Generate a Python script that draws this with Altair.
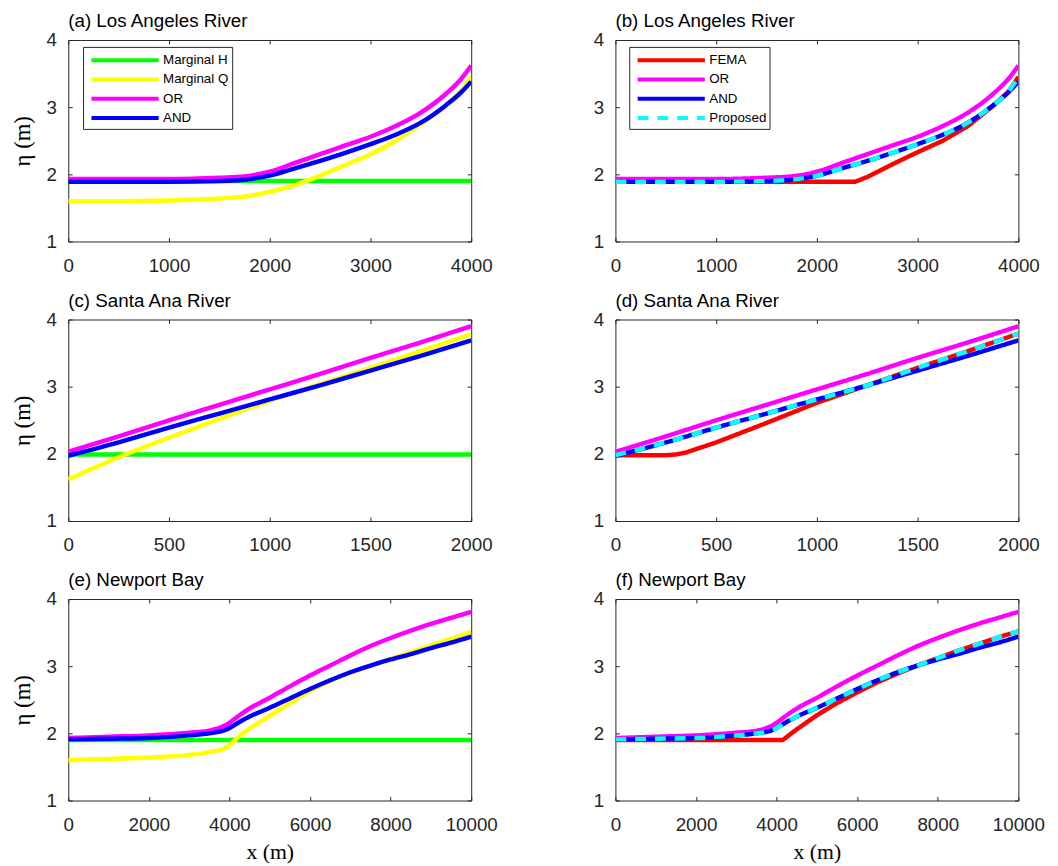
import altair as alt
import pandas as pd

# ---------------- data ----------------
# Los Angeles River, panels (a) and (b)
LA_X = [0, 500, 1000, 1500, 1750, 2000, 2250, 2500, 2750, 3000, 3250, 3500, 3750, 3900, 4000]
LA_H_X = [0, 4000]
LA_H = [1.90, 1.90]
LA_Q = [1.60, 1.60, 1.61, 1.64, 1.67, 1.74, 1.84, 1.98, 2.14, 2.30, 2.50, 2.75, 3.03, 3.25, 3.45]
LA_OR = [1.93, 1.93, 1.93, 1.95, 1.97, 2.04, 2.17, 2.30, 2.43, 2.56, 2.72, 2.92, 3.20, 3.42, 3.62]
LA_AND = [1.89, 1.89, 1.89, 1.90, 1.92, 1.98, 2.09, 2.20, 2.32, 2.45, 2.59, 2.77, 3.03, 3.22, 3.38]
LA_PROP = [1.89, 1.89, 1.89, 1.90, 1.92, 1.98, 2.09, 2.20, 2.32, 2.45, 2.59, 2.77, 3.03, 3.23, 3.45]
LA_FEMA_X = [0, 2380, 2500, 2750, 3000, 3250, 3500, 3750, 3900, 4000]
LA_FEMA = [1.89, 1.89, 1.96, 2.15, 2.33, 2.50, 2.72, 3.02, 3.23, 3.45]
LA_TICKS = [0, 1000, 2000, 3000, 4000]

# Santa Ana River, panels (c) and (d)
SA_X = [0, 250, 500, 750, 1000, 1250, 1500, 1750, 2000]
SA_H_X = [0, 2000]
SA_H = [1.99, 1.99]
SA_Q = [1.62, 1.95, 2.24, 2.52, 2.79, 3.04, 3.28, 3.53, 3.78]
SA_OR = [2.03, 2.26, 2.50, 2.73, 2.96, 3.19, 3.43, 3.66, 3.90]
SA_AND = [1.97, 2.17, 2.39, 2.60, 2.81, 3.02, 3.24, 3.46, 3.69]
SA_PROP = [1.98, 2.17, 2.39, 2.60, 2.81, 3.02, 3.28, 3.53, 3.79]
SA_FEMA_X = [0, 250, 300, 350, 400, 500, 750, 1000, 1250, 1500, 1750, 2000]
SA_FEMA = [1.98, 1.98, 1.99, 2.02, 2.07, 2.17, 2.46, 2.76, 3.02, 3.28, 3.53, 3.79]
SA_TICKS = [0, 500, 1000, 1500, 2000]

# Newport Bay, panels (e) and (f)
NB_X = [0, 1000, 2000, 3000, 3500, 3900, 4250, 4500, 5000, 5500, 6000, 6500, 7000, 7500,
        8000, 8500, 9000, 9500, 10000]
NB_H_X = [0, 10000]
NB_H = [1.90, 1.90]
NB_Q = [1.60, 1.62, 1.64, 1.68, 1.72, 1.78, 1.96, 2.07, 2.26, 2.45, 2.63, 2.78, 2.90, 3.01,
        3.11, 3.21, 3.31, 3.41, 3.51]
NB_OR = [1.93, 1.95, 1.97, 2.01, 2.04, 2.12, 2.27, 2.37, 2.53, 2.70, 2.86, 3.01, 3.16, 3.30,
         3.42, 3.53, 3.63, 3.72, 3.81]
NB_AND = [1.91, 1.92, 1.93, 1.97, 2.00, 2.05, 2.17, 2.25, 2.38, 2.52, 2.66, 2.79, 2.91, 3.01,
          3.10, 3.18, 3.27, 3.35, 3.44]
NB_PROP = [1.91, 1.92, 1.93, 1.97, 2.00, 2.05, 2.17, 2.25, 2.38, 2.52, 2.66, 2.79, 2.91, 3.01,
           3.12, 3.23, 3.33, 3.43, 3.52]
NB_FEMA_X = [0, 4150, 4500, 5000, 5500, 6000, 6500, 7000, 7500, 8000, 8500, 9000, 9500, 10000]
NB_FEMA = [1.90, 1.90, 2.06, 2.27, 2.45, 2.61, 2.76, 2.89, 3.01, 3.12, 3.23, 3.33, 3.43, 3.52]
NB_TICKS = [0, 2000, 4000, 6000, 8000, 10000]

Y_TICKS = [1, 2, 3, 4]

NAMES_L = ["Marginal H", "Marginal Q", "OR", "AND"]
COLORS_L = ["#00ff00", "#ffff00", "#ff00ff", "#0000ff"]
NAMES_R = ["FEMA", "OR", "AND", "Proposed"]
COLORS_R = ["#ff0000", "#ff00ff", "#0000ff", "#00ffff"]
DASH_R = [[1, 0], [1, 0], [1, 0], [11, 9]]

# ---------------- styling ----------------
PW, PH = 408, 204
TICK = 4
SANS = "Liberation Sans"
SERIF = "Liberation Serif"
TXT = "#262626"


def line_df(name, xs, ys):
    return pd.DataFrame({"x": xs, "eta": ys, "series": [name] * len(xs)})


def make_legend(lx, ly):
    return alt.Legend(
        orient="none", legendX=lx, legendY=ly, title=None, direction="vertical",
        symbolType="M-4,0H4", symbolSize=289, symbolStrokeWidth=4, symbolOffset=29,
        labelFont=SANS, labelFontSize=13.5, labelColor="#000", labelOffset=28,
        rowPadding=0.5, padding=3, fillColor="#ffffff", strokeColor=TXT,
    )


def panel(title, series, names, colors, xdom, xticks, ytitle, xtitle, legend, dashed):
    xscale = alt.Scale(domain=xdom, nice=False, zero=False)
    yscale = alt.Scale(domain=[1, 4], nice=False, zero=False)
    xkw = dict(orient="bottom", values=xticks, format="d", offset=-TICK, tickSize=TICK,
               domain=False, grid=False, labelPadding=15, labelFont=SANS, labelFontSize=19,
               labelColor=TXT, tickColor=TXT, labelFlush=False)
    if xtitle:
        xkw.update(title=xtitle, titleFont=SERIF, titleFontSize=22, titleFontWeight="normal",
                   titleColor="#000", titlePadding=8)
    else:
        xkw.update(title=None)
    ykw = dict(orient="left", values=Y_TICKS, format="d", offset=-TICK, tickSize=TICK,
               domain=False, grid=False, labelPadding=12, labelFont=SANS, labelFontSize=19,
               labelColor=TXT, tickColor=TXT, labelFlush=False)
    if ytitle:
        ykw.update(title=ytitle, titleFont=SERIF, titleFontSize=23, titleFontWeight="normal",
                   titleColor="#000", titlePadding=12)
    else:
        ykw.update(title=None)
    xaxis = alt.Axis(**xkw)
    yaxis = alt.Axis(**ykw)

    layers = []
    for name, xs, ys, interp in series:
        enc = dict(
            x=alt.X("x:Q", scale=xscale, axis=xaxis),
            y=alt.Y("eta:Q", scale=yscale, axis=yaxis),
            color=alt.Color("series:N", scale=alt.Scale(domain=names, range=colors),
                            legend=legend),
        )
        if dashed:
            enc["strokeDash"] = alt.StrokeDash(
                "series:N", scale=alt.Scale(domain=names, range=DASH_R), legend=legend)
        layers.append(
            alt.Chart(line_df(name, xs, ys))
            .mark_line(strokeWidth=4.5, interpolate=interp, clip=True)
            .encode(**enc)
        )
    lines = alt.layer(*layers)

    top_axis = alt.Axis(orient="top", values=xticks, labels=False, title=None, offset=-TICK,
                        tickSize=TICK, domain=False, grid=False, tickColor=TXT)
    right_axis = alt.Axis(orient="right", values=Y_TICKS, labels=False, title=None,
                          offset=-TICK, tickSize=TICK, domain=False, grid=False, tickColor=TXT)
    frame = (
        alt.Chart(pd.DataFrame({"x": xdom, "eta": [1, 4]}))
        .mark_point(opacity=0)
        .encode(x=alt.X("x:Q", scale=xscale, axis=top_axis),
                y=alt.Y("eta:Q", scale=yscale, axis=right_axis))
    )
    return (
        alt.layer(lines, frame)
        .resolve_axis(x="independent", y="independent")
        .properties(
            width=PW, height=PH,
            title=alt.TitleParams(title, anchor="start", frame="group", font=SANS,
                                  fontSize=19, fontWeight="normal", color="#000", offset=0),
        )
    )


def left_series(X, HX, H, Q, OR, AND):
    return [
        ("Marginal H", HX, H, "linear"),
        ("Marginal Q", X, Q, "monotone"),
        ("OR", X, OR, "monotone"),
        ("AND", X, AND, "monotone"),
    ]


def right_series(X, FX, F, OR, AND, P):
    return [
        ("FEMA", FX, F, "linear"),
        ("OR", X, OR, "monotone"),
        ("AND", X, AND, "monotone"),
        ("Proposed", X, P, "monotone"),
    ]


ETA = "η (m)"
XT = "x (m)"

pa = panel("(a) Los Angeles River", left_series(LA_X, LA_H_X, LA_H, LA_Q, LA_OR, LA_AND),
           NAMES_L, COLORS_L, [0, 4000], LA_TICKS, ETA, None, make_legend(15, 7), False)
pb = panel("(b) Los Angeles River",
           right_series(LA_X, LA_FEMA_X, LA_FEMA, LA_OR, LA_AND, LA_PROP),
           NAMES_R, COLORS_R, [0, 4000], LA_TICKS, None, None, make_legend(14, 7), True)
pc = panel("(c) Santa Ana River", left_series(SA_X, SA_H_X, SA_H, SA_Q, SA_OR, SA_AND),
           NAMES_L, COLORS_L, [0, 2000], SA_TICKS, ETA, None, None, False)
pd_ = panel("(d) Santa Ana River",
            right_series(SA_X, SA_FEMA_X, SA_FEMA, SA_OR, SA_AND, SA_PROP),
            NAMES_R, COLORS_R, [0, 2000], SA_TICKS, None, None, None, True)
pe = panel("(e) Newport Bay", left_series(NB_X, NB_H_X, NB_H, NB_Q, NB_OR, NB_AND),
           NAMES_L, COLORS_L, [0, 10000], NB_TICKS, ETA, XT, None, False)
pf = panel("(f) Newport Bay",
           right_series(NB_X, NB_FEMA_X, NB_FEMA, NB_OR, NB_AND, NB_PROP),
           NAMES_R, COLORS_R, [0, 10000], NB_TICKS, None, XT, None, True)

chart = (
    alt.concat(pa, pb, pc, pd_, pe, pf, columns=2, bounds="flush",
               spacing={"row": 79, "column": 146})
    .resolve_scale(color="independent", strokeDash="independent")
    .configure(font=SANS, padding={"left": 2, "top": -2, "right": 5, "bottom": 5})
    .configure_view(stroke=TXT, strokeWidth=1)
)

chart.save("out.html", embed_options={"renderer": "svg", "actions": False})
